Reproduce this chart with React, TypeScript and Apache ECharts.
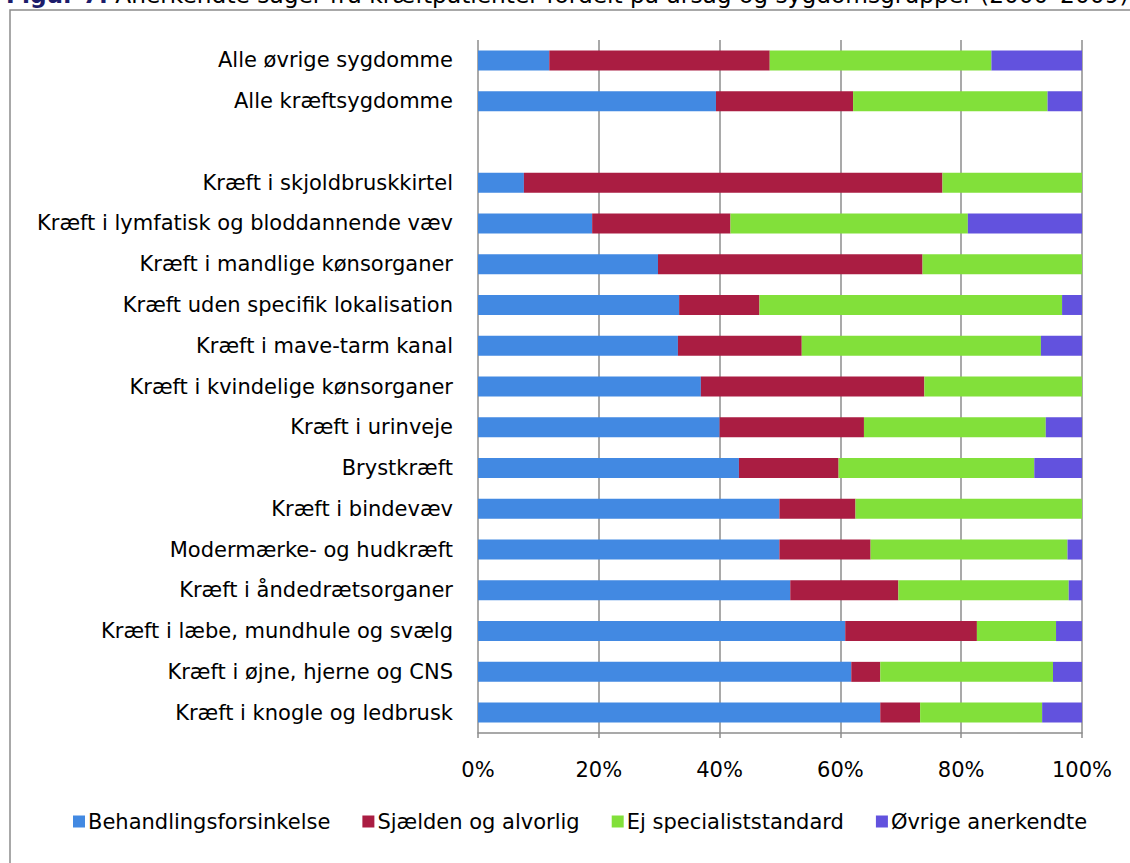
import React, { useEffect, useRef } from "react";
import * as echarts from "echarts";

const categories = [
  "Alle øvrige sygdomme",
  "Alle kræftsygdomme",
  "",
  "Kræft i skjoldbruskkirtel",
  "Kræft i lymfatisk og bloddannende væv",
  "Kræft i mandlige kønsorganer",
  "Kræft uden specifik lokalisation",
  "Kræft i mave-tarm kanal",
  "Kræft i kvindelige kønsorganer",
  "Kræft i urinveje",
  "Brystkræft",
  "Kræft i bindevæv",
  "Modermærke- og hudkræft",
  "Kræft i åndedrætsorganer",
  "Kræft i læbe, mundhule og svælg",
  "Kræft i øjne, hjerne og CNS",
  "Kræft i knogle og ledbrusk",
];

const seriesNames = [
  "Behandlingsforsinkelse",
  "Sjælden og alvorlig",
  "Ej specialiststandard",
  "Øvrige anerkendte",
];

const behandling = [11.8, 39.4, null, 7.6, 18.9, 29.8, 33.3, 33.1, 36.9, 40.0, 43.2, 49.9, 49.9, 51.7, 60.8, 61.8, 66.6];
const sjaelden = [36.5, 22.7, null, 69.3, 22.9, 43.8, 13.3, 20.5, 37.0, 23.9, 16.5, 12.6, 15.1, 17.9, 21.8, 4.8, 6.6];
const ejSpecialist = [36.7, 32.2, null, 23.1, 39.3, 26.4, 50.1, 39.6, 26.1, 30.1, 32.4, 37.5, 32.6, 28.2, 13.1, 28.6, 20.2];
const oevrige = [15.0, 5.7, null, 0, 18.9, 0, 3.3, 6.8, 0, 6.0, 7.9, 0, 2.4, 2.2, 4.3, 4.8, 6.6];

const xTicks = [0, 20, 40, 60, 80, 100];

const colors = ["#4289e2", "#aa1d42", "#82e03a", "#6252de"];

const FONT = "'DejaVu Sans', sans-serif";

export default function App() {
  const ref = useRef<HTMLDivElement>(null);
  useEffect(() => {
    if (!ref.current) return;
    const chart = echarts.init(ref.current, null, { renderer: "svg" });
    const values = [behandling, sjaelden, ejSpecialist, oevrige];
    chart.setOption({
      animation: false,
      color: colors,
      textStyle: { fontFamily: FONT },
      graphic: [
        {
          type: "rect",
          shape: { x: 10, y: 10, width: 1140, height: 880 },
          style: { fill: "none", stroke: "#8c8c8c", lineWidth: 1.5 },
          silent: true,
        },
        {
          type: "text",
          x: 6,
          y: 6,
          style: {
            text: "{b|Figur 7.} Anerkendte sager fra kræftpatienter fordelt på årsag og sygdomsgrupper (2000–2009)",
            fontFamily: FONT,
            fontSize: 23.3,
            fill: "#000",
            textVerticalAlign: "bottom",
            rich: {
              b: { fontWeight: "bold", fill: "#1c1c6b", fontSize: 23.3, fontFamily: FONT },
            },
          },
        },
      ],
      grid: { left: 478, right: 48, top: 40, bottom: 130, containLabel: false },
      legend: {
        bottom: 26,
        left: 68,
        itemWidth: 12,
        itemHeight: 12,
        itemGap: 32,
        icon: "rect",
        textStyle: { fontSize: 21, color: "#000", fontFamily: FONT, padding: [0, 0, 0, -2] },
        data: seriesNames,
      },
      xAxis: {
        type: "value",
        min: 0,
        max: 100,
        interval: 20,
        axisLabel: {
          formatter: (v: number) => (xTicks.includes(v) ? v + "%" : ""),
          fontSize: 21,
          color: "#000",
          margin: 26,
          fontFamily: FONT,
        },
        axisLine: { show: true, lineStyle: { color: "#8c8c8c", width: 1.5 } },
        axisTick: { show: true, length: 5, lineStyle: { color: "#8c8c8c", width: 1.5 } },
        splitLine: { show: true, lineStyle: { color: "#8c8c8c", width: 1.5 } },
      },
      yAxis: {
        type: "category",
        inverse: true,
        data: categories,
        axisLabel: { fontSize: 21, color: "#000", margin: 25, fontFamily: FONT },
        axisLine: { show: false },
        axisTick: { show: false },
        splitLine: { show: false },
      },
      series: seriesNames.map((name, i) => ({
        name,
        type: "bar",
        stack: "total",
        barWidth: 20,
        data: values[i],
        itemStyle: { color: colors[i] },
      })),
    });
    return () => chart.dispose();
  }, []);
  return (
    <div
      ref={ref}
      style={{ position: "absolute", left: 0, top: 0, width: 1130, height: 863 }}
    />
  );
}
